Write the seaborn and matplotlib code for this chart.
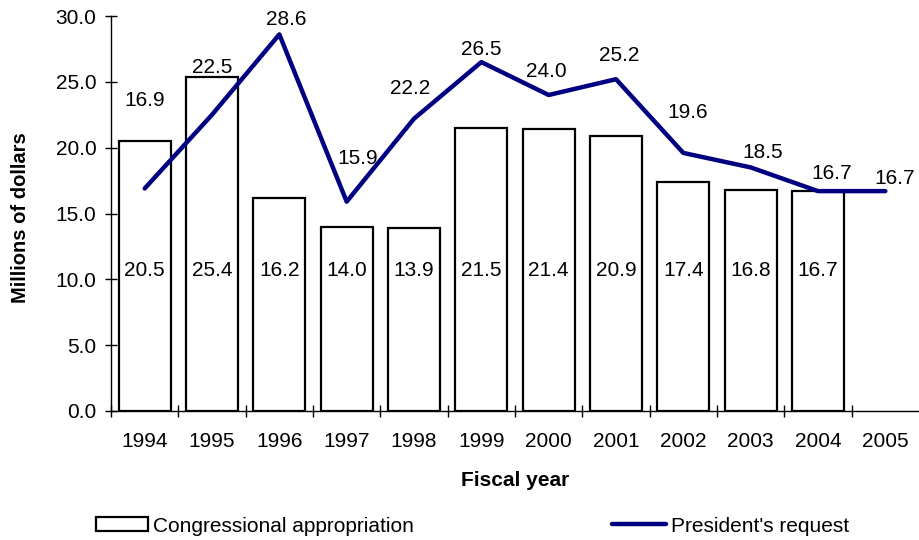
import numpy as np
import pandas as pd
import matplotlib
matplotlib.use("Agg")
import matplotlib.pyplot as plt
import seaborn as sns
from matplotlib.patches import Patch
from matplotlib.lines import Line2D
from matplotlib.ticker import FixedLocator, FormatStrFormatter

# ---- data ----
years = ["1994", "1995", "1996", "1997", "1998", "1999", "2000",
         "2001", "2002", "2003", "2004", "2005"]
appropriation = [20.5, 25.4, 16.2, 14.0, 13.9, 21.5, 21.4, 20.9, 17.4, 16.8, 16.7]
request = [16.9, 22.5, 28.6, 15.9, 22.2, 26.5, 24.0, 25.2, 19.6, 18.5, 16.7, 16.7]

# label offsets for the request labels (points), as placed in the original
req_label_dx = [0, 0, 5, 8, -3, 0, -2, 2, 3, 9, 10, 7]
req_label_dy = [63, 34, 11, 31, 22, 9, 17, 17, 29, 11, 13, 9]

sns.set_style("ticks")
plt.rcParams["font.family"] = ["Liberation Sans", "DejaVu Sans"]
plt.rcParams.update({"text.color": "black", "axes.labelcolor": "black",
                     "xtick.color": "black", "ytick.color": "black",
                     "axes.edgecolor": "black"})

NAVY = "#000080"
FS = 15

fig = plt.figure(figsize=(9.19, 5.40), dpi=100)
ax = fig.add_axes([111 / 919, 1 - 411 / 540, 808 / 919, 395 / 540])

df_bar = pd.DataFrame({"year": years[:len(appropriation)], "value": appropriation})
sns.barplot(data=df_bar, x="year", y="value", order=years, color="white",
            edgecolor="black", linewidth=1.6, width=0.77, ax=ax, zorder=2)
for p in ax.patches:
    p.set_facecolor("white")

xpos = np.arange(len(years))
sns.lineplot(x=xpos, y=request, color=NAVY, linewidth=3.2, ax=ax, zorder=3,
             solid_capstyle="round")

# labels
for i, v in enumerate(appropriation):
    ax.text(i, 10.7, f"{v:.1f}", ha="center", va="center", fontsize=FS,
            color="black", zorder=4)
for i, v in enumerate(request):
    ax.annotate(f"{v:.1f}", (i, v), xytext=(req_label_dx[i], req_label_dy[i]),
                textcoords="offset points", ha="center", va="center",
                fontsize=FS, color="black", zorder=4)

ax.set_xlim(-0.5, 11.5)
ax.set_ylim(0, 30)
ax.yaxis.set_major_locator(FixedLocator(np.arange(0, 30.1, 5)))
ax.yaxis.set_major_formatter(FormatStrFormatter("%.1f"))
ax.set_xticks(xpos)
ax.set_xticklabels(years)
ax.xaxis.set_minor_locator(FixedLocator(np.arange(-0.5, 11.0, 1.0)))
ax.tick_params(axis="x", which="major", length=0, pad=15, labelsize=FS,
               labelcolor="black")
ax.tick_params(axis="x", which="minor", direction="inout", length=9, width=1, color="black")
ax.tick_params(axis="y", which="major", direction="inout", length=9, width=1,
               pad=6, labelsize=FS, color="black", labelcolor="black")

sns.despine(ax=ax, top=True, right=True)
for s in ("left", "bottom"):
    ax.spines[s].set_color("black")
    ax.spines[s].set_linewidth(1.0)

ax.set_ylabel("Millions of dollars", fontsize=14.5, fontweight="bold", color="black",
              va="center")
ax.set_xlabel("Fiscal year", fontsize=FS, fontweight="bold", color="black",
              va="center")
ax.yaxis.set_label_coords(-0.112, 0.49)
ax.xaxis.set_label_coords(0.5, -0.175)

h1 = Patch(facecolor="white", edgecolor="black", linewidth=1.6)
h2 = Line2D([], [], color=NAVY, linewidth=3.2)
fig.legend(handles=[h1], labels=["Congressional appropriation"], loc="center left",
           bbox_to_anchor=(96 / 919, 1 - 526 / 540), frameon=False, fontsize=FS,
           handlelength=2.5, handleheight=0.65, handletextpad=0.25,
           borderpad=0, borderaxespad=0, labelcolor="black")
fig.legend(handles=[h2], labels=["President's request"], loc="center left",
           bbox_to_anchor=(612 / 919, 1 - 526 / 540), frameon=False, fontsize=FS,
           handlelength=2.6, handletextpad=0.25, borderpad=0, borderaxespad=0,
           labelcolor="black")

fig.savefig("out.png", dpi=100)
